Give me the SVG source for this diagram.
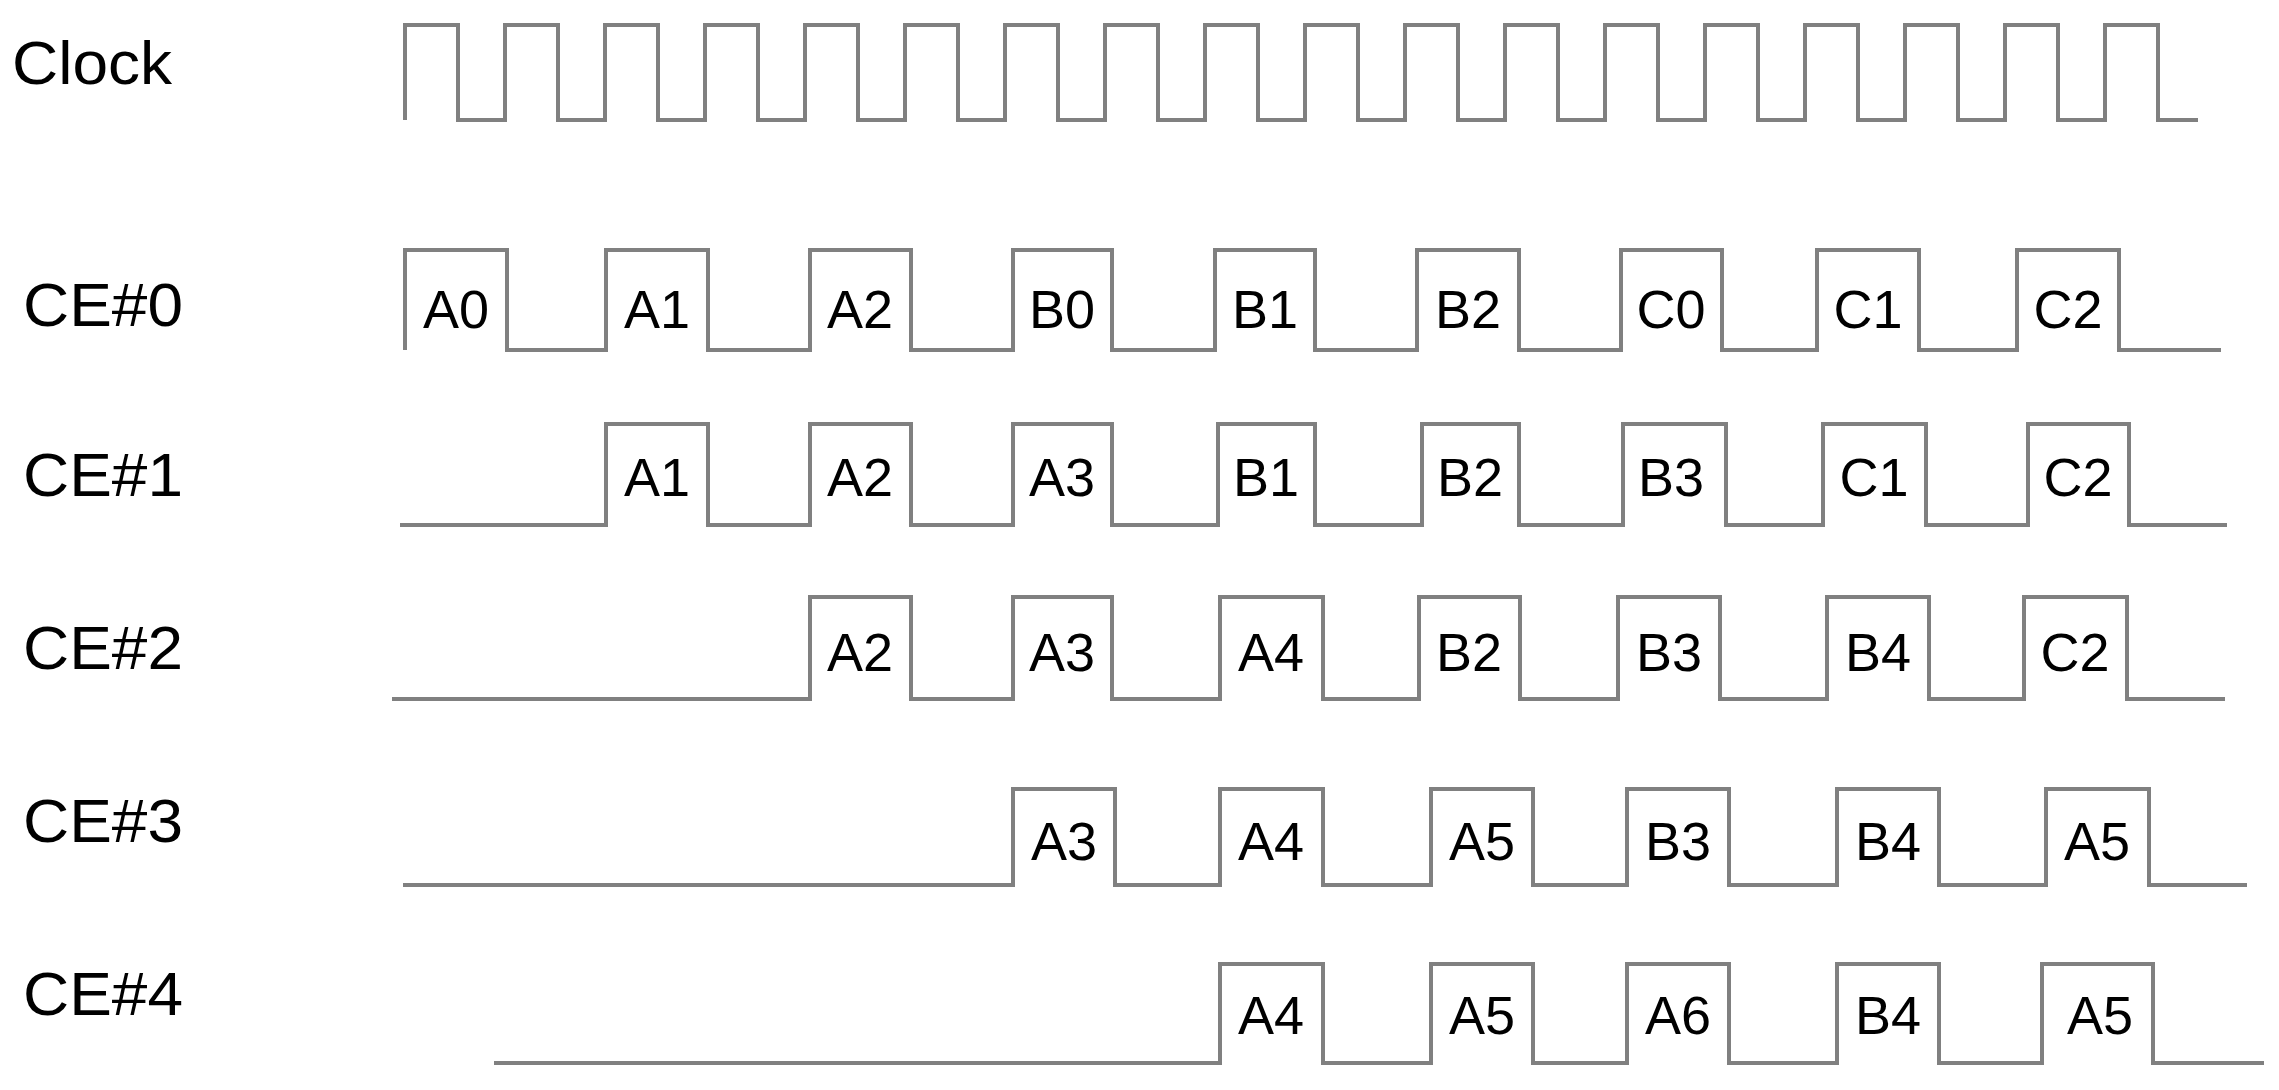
<svg xmlns="http://www.w3.org/2000/svg" width="2279" height="1090" viewBox="0 0 2279 1090">
<style>
.w{fill:none;stroke:#808080;stroke-width:4}
.l{font-family:"Liberation Sans",Arial,sans-serif;font-size:62px;fill:#000}
.p{font-family:"Liberation Sans",Arial,sans-serif;font-size:54px;fill:#000;text-anchor:middle}
</style>
<rect width="2279" height="1090" fill="#fff"/>
<g id="clock">
<text class="l" x="12" y="84" textLength="160" lengthAdjust="spacingAndGlyphs">Clock</text>
<path class="w" d="M405,120 V25 H458 V120 H505 V25 H558 V120 H605 V25 H658 V120 H705 V25 H758 V120 H805 V25 H858 V120 H905 V25 H958 V120 H1005 V25 H1058 V120 H1105 V25 H1158 V120 H1205 V25 H1258 V120 H1305 V25 H1358 V120 H1405 V25 H1458 V120 H1505 V25 H1558 V120 H1605 V25 H1658 V120 H1705 V25 H1758 V120 H1805 V25 H1858 V120 H1905 V25 H1958 V120 H2005 V25 H2058 V120 H2105 V25 H2158 V120 H2198"/>
</g>
<g id="ce0">
<text class="l" x="23" y="326" textLength="160" lengthAdjust="spacingAndGlyphs">CE#0</text>
<path class="w" d="M405,350 V250 H507 V350 H606 V250 H708 V350 H810 V250 H911 V350 H1013 V250 H1112 V350 H1215 V250 H1315 V350 H1417 V250 H1519 V350 H1621 V250 H1722 V350 H1817 V250 H1919 V350 H2017 V250 H2119 V350 H2221"/>
<g class="p"><text x="456" y="328">A0</text><text x="657" y="328">A1</text><text x="860" y="328">A2</text><text x="1062" y="328">B0</text><text x="1265" y="328">B1</text><text x="1468" y="328">B2</text><text x="1671" y="328">C0</text><text x="1868" y="328">C1</text><text x="2068" y="328">C2</text></g>
</g>
<g id="ce1">
<text class="l" x="23" y="496" textLength="160" lengthAdjust="spacingAndGlyphs">CE#1</text>
<path class="w" d="M400,525 H606 V424 H708 V525 H810 V424 H911 V525 H1013 V424 H1112 V525 H1218 V424 H1315 V525 H1422 V424 H1519 V525 H1623 V424 H1726 V525 H1823 V424 H1926 V525 H2028 V424 H2129 V525 H2227"/>
<g class="p"><text x="657" y="496">A1</text><text x="860" y="496">A2</text><text x="1062" y="496">A3</text><text x="1266" y="496">B1</text><text x="1470" y="496">B2</text><text x="1671" y="496">B3</text><text x="1874" y="496">C1</text><text x="2078" y="496">C2</text></g>
</g>
<g id="ce2">
<text class="l" x="23" y="669" textLength="160" lengthAdjust="spacingAndGlyphs">CE#2</text>
<path class="w" d="M392,699 H810 V597 H911 V699 H1013 V597 H1112 V699 H1220 V597 H1323 V699 H1419 V597 H1520 V699 H1618 V597 H1720 V699 H1827 V597 H1929 V699 H2024 V597 H2127 V699 H2225"/>
<g class="p"><text x="860" y="671">A2</text><text x="1062" y="671">A3</text><text x="1271" y="671">A4</text><text x="1469" y="671">B2</text><text x="1669" y="671">B3</text><text x="1878" y="671">B4</text><text x="2075" y="671">C2</text></g>
</g>
<g id="ce3">
<text class="l" x="23" y="842" textLength="160" lengthAdjust="spacingAndGlyphs">CE#3</text>
<path class="w" d="M403,885 H1013 V789 H1115 V885 H1220 V789 H1323 V885 H1431 V789 H1533 V885 H1627 V789 H1729 V885 H1837 V789 H1939 V885 H2046 V789 H2149 V885 H2247"/>
<g class="p"><text x="1064" y="860">A3</text><text x="1271" y="860">A4</text><text x="1482" y="860">A5</text><text x="1678" y="860">B3</text><text x="1888" y="860">B4</text><text x="2097" y="860">A5</text></g>
</g>
<g id="ce4">
<text class="l" x="23" y="1015" textLength="160" lengthAdjust="spacingAndGlyphs">CE#4</text>
<path class="w" d="M494,1063 H1220 V964 H1323 V1063 H1431 V964 H1533 V1063 H1627 V964 H1729 V1063 H1837 V964 H1939 V1063 H2042 V964 H2153 V1063 H2264"/>
<g class="p"><text x="1271" y="1034">A4</text><text x="1482" y="1034">A5</text><text x="1678" y="1034">A6</text><text x="1888" y="1034">B4</text><text x="2100" y="1034">A5</text></g>
</g>
</svg>
